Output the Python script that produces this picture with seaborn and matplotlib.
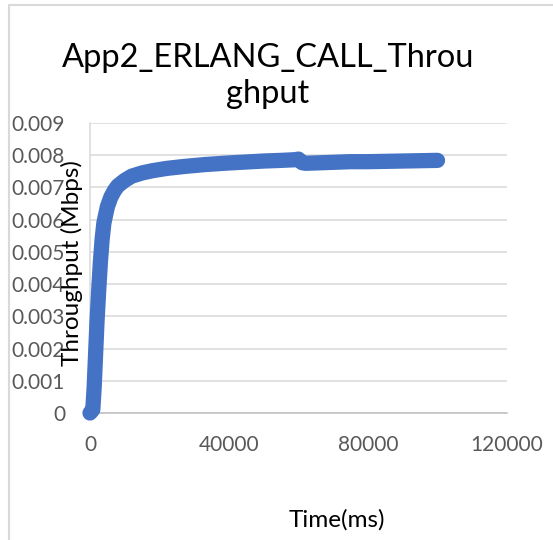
import pandas as pd
import matplotlib
matplotlib.use("Agg")
import matplotlib.pyplot as plt
import seaborn as sns
from matplotlib.lines import Line2D

# values
time_ms = [0, 800, 1200, 1600, 2000, 2500, 3000, 3500, 4000, 5000, 6000, 7000,
           8000, 10000, 12000, 15000, 18000, 22000, 27000, 33000, 40000, 45000,
           50000, 55000, 59000, 60000, 61000, 62000, 65000, 70000, 75000, 80000,
           85000, 90000, 95000, 100000]
throughput = [0, 0.0001, 0.0008, 0.0018, 0.0028, 0.0038, 0.0047, 0.0054, 0.0059,
              0.0064, 0.0067, 0.0069, 0.00705, 0.00722, 0.00735, 0.00745, 0.00752,
              0.00759, 0.00765, 0.00771, 0.00776, 0.00779, 0.00782, 0.00784,
              0.00786, 0.00788, 0.00777, 0.00775, 0.00776, 0.00778, 0.0078, 0.0078,
              0.00781, 0.00782, 0.00783, 0.00784]
x_ticks = [0, 40000, 80000, 120000]
y_ticks = [0, 0.001, 0.002, 0.003, 0.004, 0.005, 0.006, 0.007, 0.008, 0.009]
y_labels = ["0", "0.001", "0.002", "0.003", "0.004", "0.005", "0.006", "0.007", "0.008", "0.009"]

df = pd.DataFrame({"Time": time_ms, "Throughput": throughput})

sns.set_theme(style="whitegrid")
plt.rcParams["font.family"] = ["Lato", "DejaVu Sans"]

W, H = 553, 540
fig = plt.figure(figsize=(W / 100, H / 100), dpi=100)
ax = fig.add_axes([90 / W, 1 - 413 / H, (507 - 90) / W, (413 - 123) / H])

sns.lineplot(data=df, x="Time", y="Throughput", ax=ax, color="#4472C4",
             linewidth=11, estimator=None, sort=False, clip_on=False, zorder=5,
             solid_capstyle="round", solid_joinstyle="round")

ax.set_xlim(0, 120000)
ax.set_ylim(0, 0.009)
ax.set_xticks(x_ticks)
ax.set_xticklabels([str(t) for t in x_ticks])
ax.set_yticks(y_ticks)
ax.set_yticklabels(y_labels)
ax.tick_params(axis="both", length=0, labelsize=15, labelcolor="#595959")
ax.tick_params(axis="y", pad=18)
ax.tick_params(axis="x", pad=16)
ax.grid(axis="y", color="#d9d9d9", linewidth=1.1)
ax.grid(axis="x", visible=False)
ax.set_xlabel("")
ax.set_ylabel("")
for s in ["top", "right"]:
    ax.spines[s].set_visible(False)
ax.spines["left"].set_color("#d9d9d9")
ax.spines["left"].set_linewidth(1.1)
ax.spines["bottom"].set_color("#bfbfbf")
ax.spines["bottom"].set_linewidth(1.1)

fig.text(268 / W, 1 - 76 / H, "App2_ERLANG_CALL_Throu\nghput", ha="center",
         va="center", fontsize=23.5, color="#000000", linespacing=1.25)
fig.text(72 / W, 1 - 263 / H, "Throughput (Mbps)", rotation=90, ha="center",
         va="center", fontsize=17.5, color="#000000")
fig.text(337 / W, 1 - 520 / H, "Time(ms)", ha="center", va="center",
         fontsize=17.5, color="#000000")

# chart frame (left and top edges visible)
fig.add_artist(Line2D([9 / W, 9 / W], [0, 1 - 5 / H], transform=fig.transFigure,
                      color="#d9d9d9", linewidth=1.5))
fig.add_artist(Line2D([9 / W, 1], [1 - 5 / H, 1 - 5 / H], transform=fig.transFigure,
                      color="#d9d9d9", linewidth=1.5))

fig.savefig("out.png", dpi=100)
